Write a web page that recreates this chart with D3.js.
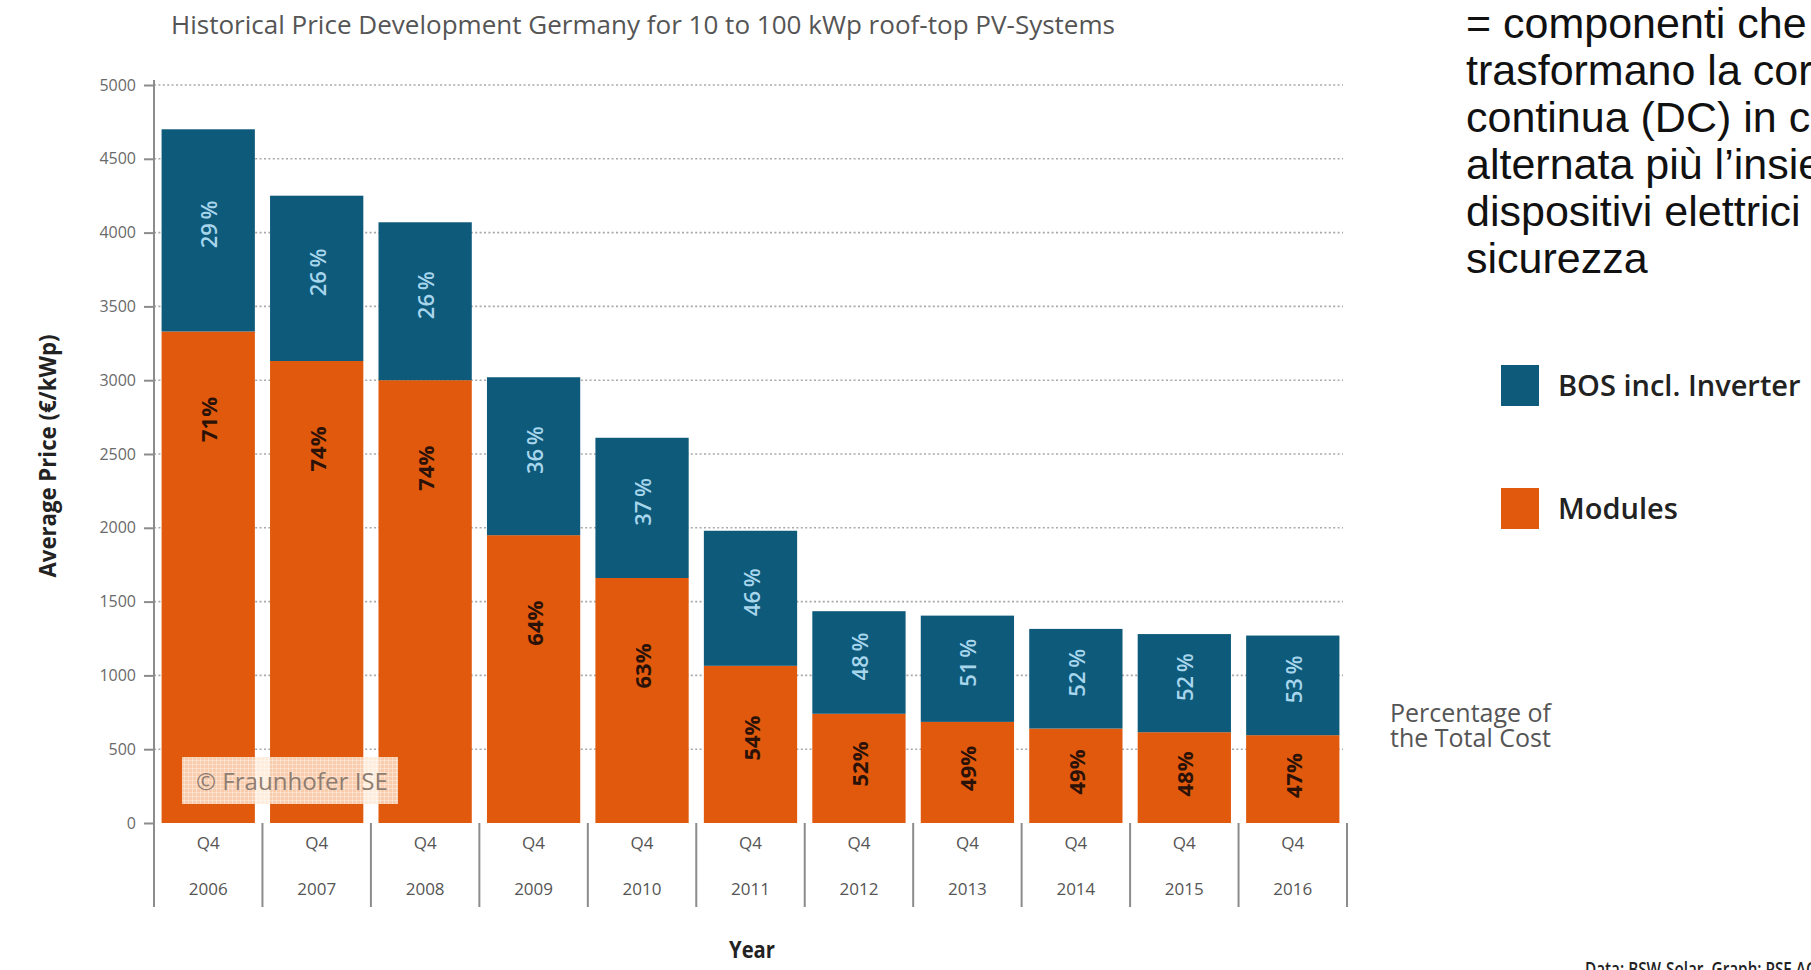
<!DOCTYPE html>
<html>
<head>
<meta charset="utf-8">
<script src="https://cdn.jsdelivr.net/npm/d3@7"></script>
<style>
  body { margin: 0; background: #fff; }
  svg { display: block; }
</style>
</head>
<body>
<svg id="chart" width="1811" height="970"></svg>
<script>
// Average system price (€/kWp), split into modules and BOS incl. inverter
const years      = ["2006", "2007", "2008", "2009", "2010", "2011", "2012", "2013", "2014", "2015", "2016"];
const quarters   = ["Q4", "Q4", "Q4", "Q4", "Q4", "Q4", "Q4", "Q4", "Q4", "Q4", "Q4"];
const modules    = [3330, 3130, 3000, 1950, 1660, 1065, 740, 685, 640, 615, 595];
const bos        = [1370, 1120, 1070, 1070, 950, 915, 695, 720, 675, 665, 675];
const modulesPct = [71, 74, 74, 64, 63, 54, 52, 49, 49, 48, 47];
const bosPct     = [29, 26, 26, 36, 37, 46, 48, 51, 52, 52, 53];
const yTicks     = [0, 500, 1000, 1500, 2000, 2500, 3000, 3500, 4000, 4500, 5000];
const seriesKeys = ["modules", "bos"];
const seriesNames = { bos: "BOS incl. Inverter", modules: "Modules" };
const noteLines = [
  "= componenti che",
  "trasformano la corrente",
  "continua (DC) in corrente",
  "alternata più l’insieme dei",
  "dispositivi elettrici di",
  "sicurezza"
];

const COLORS = { modules: "#e0590c", bos: "#0e5a7b" };
const FONT = "'Open Sans', 'Noto Sans', sans-serif";

const rows = years.map((yr, i) => ({
  year: yr, quarter: quarters[i],
  modules: modules[i], bos: bos[i],
  modulesPct: modulesPct[i], bosPct: bosPct[i]
}));

const svg = d3.select("#chart");

const x = d3.scaleBand()
  .domain(years)
  .range([154, 1347])
  .paddingInner(0.14)
  .paddingOuter(0.07);

const y = d3.scaleLinear().domain([0, 5000]).range([823, 85]);

// dotted horizontal gridlines
svg.append("g")
  .selectAll("line")
  .data(yTicks.filter(d => d > 0))
  .join("line")
  .attr("x1", 154).attr("x2", 1343)
  .attr("y1", d => y(d)).attr("y2", d => y(d))
  .attr("stroke", "#a9a9a9")
  .attr("stroke-width", 1.6)
  .attr("stroke-dasharray", "2,2.4");

// stacked bars
const stacked = d3.stack().keys(seriesKeys)(rows);

svg.append("g")
  .selectAll("g")
  .data(stacked)
  .join("g")
  .attr("fill", s => COLORS[s.key])
  .selectAll("rect")
  .data(s => s)
  .join("rect")
  .attr("x", d => x(d.data.year))
  .attr("width", x.bandwidth())
  .attr("y", d => y(d[1]))
  .attr("height", d => y(d[0]) - y(d[1]));

// percentage labels inside the bars
const labels = svg.append("g").attr("font-family", FONT).attr("font-size", 22);

labels.selectAll("text.bos")
  .data(rows)
  .join("text")
  .attr("class", "bos")
  .attr("transform", d => {
    const top = y(d.modules + d.bos), bottom = y(d.modules);
    const cy = (top + bottom) / 2 - 6;
    return `translate(${x(d.year) + x.bandwidth() / 2},${cy}) rotate(-90)`;
  })
  .attr("text-anchor", "middle")
  .attr("dominant-baseline", "central")
  .attr("font-weight", 600)
  .attr("fill", "#a7d6ec")
  .text(d => `${d.bosPct}\u2009%`);

labels.selectAll("text.mod")
  .data(rows)
  .join("text")
  .attr("class", "mod")
  .attr("transform", d => {
    const top = y(d.modules), seg = y(0) - top;
    const cy = top + Math.min(88, seg * 0.46);
    return `translate(${x(d.year) + x.bandwidth() / 2},${cy}) rotate(-90)`;
  })
  .attr("text-anchor", "middle")
  .attr("dominant-baseline", "central")
  .attr("font-weight", 700)
  .attr("fill", "#2b1208")
  .text(d => `${d.modulesPct}%`);

// copyright badge over the first bars
const defs = svg.append("defs");
const pat = defs.append("pattern")
  .attr("id", "badgeTexture")
  .attr("width", 4).attr("height", 4)
  .attr("patternUnits", "userSpaceOnUse");
pat.append("rect").attr("width", 4).attr("height", 4).attr("fill", "rgba(254,232,212,0.80)");
pat.append("path").attr("d", "M0,0.5H4M0.5,0V4")
  .attr("stroke", "rgba(255,255,255,0.35)").attr("stroke-width", 1);

svg.append("rect")
  .attr("x", 182).attr("y", 757)
  .attr("width", 216).attr("height", 47)
  .attr("fill", "url(#badgeTexture)");
svg.append("text")
  .attr("x", 196).attr("y", 790)
  .attr("font-family", FONT).attr("font-size", 23)
  .attr("fill", "#8f7d72")
  .attr("textLength", 192).attr("lengthAdjust", "spacingAndGlyphs")
  .text("© Fraunhofer ISE");

// y axis
const gy = svg.append("g")
  .attr("transform", "translate(154,0)")
  .call(d3.axisLeft(y).tickValues(yTicks).tickFormat(d3.format("d")).tickSize(10).tickPadding(8));
gy.select(".domain").remove();
gy.selectAll(".tick line").attr("stroke", "#8c8c8c").attr("stroke-width", 2);
gy.selectAll(".tick text")
  .attr("font-family", FONT).attr("font-size", 16).attr("fill", "#6a6a6a");

svg.append("line")
  .attr("x1", 154).attr("x2", 154)
  .attr("y1", 80).attr("y2", 907)
  .attr("stroke", "#8c8c8c").attr("stroke-width", 2);

// category separators and labels below the bars
const gap = (x.step() - x.bandwidth()) / 2;
const bounds = years.map(d => x(d) - gap).concat([x(years[years.length - 1]) + x.bandwidth() + gap]);

svg.append("g")
  .selectAll("line")
  .data(bounds.slice(1))
  .join("line")
  .attr("x1", d => d).attr("x2", d => d)
  .attr("y1", 823).attr("y2", 907)
  .attr("stroke", "#8c8c8c").attr("stroke-width", 2);

const gx = svg.append("g").attr("font-family", FONT).attr("font-size", 17).attr("fill", "#555");
gx.selectAll("text.q")
  .data(rows)
  .join("text")
  .attr("class", "q")
  .attr("x", d => x(d.year) + x.bandwidth() / 2)
  .attr("y", 849)
  .attr("text-anchor", "middle")
  .text(d => d.quarter);
gx.selectAll("text.yr")
  .data(rows)
  .join("text")
  .attr("class", "yr")
  .attr("x", d => x(d.year) + x.bandwidth() / 2)
  .attr("y", 895)
  .attr("text-anchor", "middle")
  .text(d => d.year);

// titles
svg.append("text")
  .attr("x", 171).attr("y", 34)
  .attr("font-family", FONT).attr("font-size", 25)
  .attr("fill", "#555")
  .attr("textLength", 944).attr("lengthAdjust", "spacingAndGlyphs")
  .text("Historical Price Development Germany for 10 to 100 kWp roof-top PV-Systems");

svg.append("text")
  .attr("transform", "translate(56,456) rotate(-90)")
  .attr("text-anchor", "middle")
  .attr("font-family", FONT).attr("font-size", 24).attr("font-weight", 700)
  .attr("fill", "#222")
  .attr("textLength", 243).attr("lengthAdjust", "spacingAndGlyphs")
  .text("Average Price (€/kWp)");

svg.append("text")
  .attr("x", 752).attr("y", 958)
  .attr("text-anchor", "middle")
  .attr("font-family", FONT).attr("font-size", 24).attr("font-weight", 700)
  .attr("fill", "#222")
  .attr("textLength", 46).attr("lengthAdjust", "spacingAndGlyphs")
  .text("Year");

// legend
const legendItems = ["bos", "modules"];
const legend = svg.append("g");
legend.selectAll("rect")
  .data(legendItems)
  .join("rect")
  .attr("x", 1501)
  .attr("y", (d, i) => 365 + i * 123)
  .attr("width", 38).attr("height", 41)
  .attr("fill", d => COLORS[d]);
legend.selectAll("text")
  .data(legendItems)
  .join("text")
  .attr("x", 1558)
  .attr("y", (d, i) => 396 + i * 123)
  .attr("font-family", FONT).attr("font-size", 29).attr("font-weight", 600)
  .attr("fill", "#222")
  .text(d => seriesNames[d]);

svg.append("text")
  .attr("font-family", FONT).attr("font-size", 25)
  .attr("fill", "#555")
  .selectAll("tspan")
  .data(["Percentage of", "the Total Cost"])
  .join("tspan")
  .attr("x", 1390)
  .attr("y", (d, i) => 722 + i * 25)
  .text(d => d);

// explanatory note (runs past the right edge)
svg.append("text")
  .attr("font-family", "'Liberation Sans', Arial, sans-serif")
  .attr("font-size", 43)
  .attr("fill", "#111")
  .selectAll("tspan")
  .data(noteLines)
  .join("tspan")
  .attr("x", 1466)
  .attr("y", (d, i) => 38 + i * 47)
  .text(d => d);

// source line
svg.append("text")
  .attr("x", 1585).attr("y", 976)
  .attr("font-family", FONT).attr("font-size", 19).attr("font-weight", 600)
  .attr("fill", "#222")
  .attr("textLength", 232).attr("lengthAdjust", "spacingAndGlyphs")
  .text("Data: BSW-Solar, Graph: PSE AG");
</script>
</body>
</html>
